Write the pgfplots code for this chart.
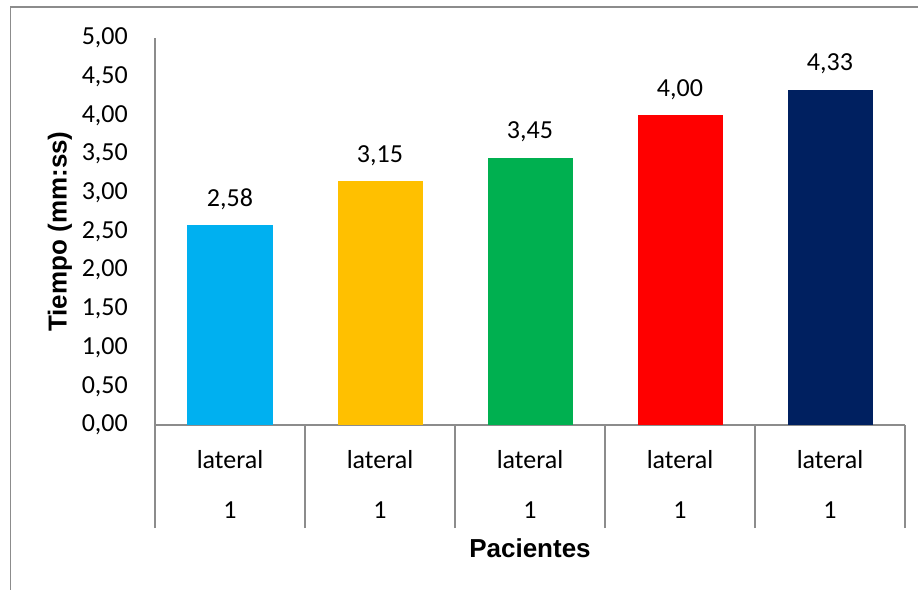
\documentclass[border=0pt]{standalone}
\usepackage{pgfplots}
\pgfplotsset{compat=1.18}
\usepackage{fontspec}
\setmainfont{Carlito}
\newfontfamily\arialfont{Liberation Sans}
\definecolor{c1}{HTML}{00B0F0}
\definecolor{c2}{HTML}{FFC000}
\definecolor{c3}{HTML}{00B050}
\definecolor{c4}{HTML}{FF0000}
\definecolor{c5}{HTML}{002060}
\definecolor{axgray}{HTML}{8C8C8C}
\begin{document}
\fontsize{26bp}{31bp}\selectfont
\begin{tikzpicture}
\useasboundingbox (0,0) rectangle (918bp,590bp);
\draw[axgray, line width=1.2bp] (10.5bp,0) -- (10.5bp,583bp) -- (918bp,583bp);
\begin{axis}[
  at={(155bp,165bp)}, anchor=south west,
  scale only axis, width=750bp, height=387bp,
  xmin=-0.5, xmax=4.5, ymin=0, ymax=5,
  axis lines*=left,
  axis line style={axgray, line width=1.2bp},
  clip=false,
  ybar, bar width=85bp, bar shift=0pt,
  xtick=\empty,
  extra x ticks={-0.5,0.5,1.5,2.5,3.5,4.5},
  extra x tick labels={},
  extra x tick style={major tick length=103bp, tick align=outside, tick style={axgray, line width=1.2bp}},
  ytick={0,0.5,...,5},
  ytick style={draw=none},
  major tick length=0pt,
  yticklabel style={anchor=east, inner sep=0pt, xshift=-27bp},
  /pgf/number format/fixed, /pgf/number format/fixed zerofill,
  /pgf/number format/precision=2, /pgf/number format/use comma,
  /pgf/number format/assume math mode=true,
  nodes near coords,
  nodes near coords style={anchor=base, inner sep=0pt, yshift=19bp, text=black},
  xlabel={\arialfont\bfseries Pacientes},
  xlabel style={at={(axis description cs:0.5,-0.3411)}, anchor=base, inner sep=0pt},
  ylabel={\arialfont\bfseries Tiempo (mm:ss)},
  ylabel style={at={(axis description cs:-0.1267,0.5)}, anchor=center, inner sep=0pt},
]
\addplot[fill=c1, draw=none] coordinates {(0,2.58)};
\addplot[fill=c2, draw=none] coordinates {(1,3.15)};
\addplot[fill=c3, draw=none] coordinates {(2,3.45)};
\addplot[fill=c4, draw=none] coordinates {(3,4.00)};
\addplot[fill=c5, draw=none] coordinates {(4,4.33)};
\pgfplotsinvokeforeach{0,...,4}{
  \node[anchor=base, inner sep=0pt, yshift=-43bp] at (axis cs:#1,0) {lateral};
  \node[anchor=base, inner sep=0pt, yshift=-93bp] at (axis cs:#1,0) {1};
}
\end{axis}
\end{tikzpicture}
\end{document}
